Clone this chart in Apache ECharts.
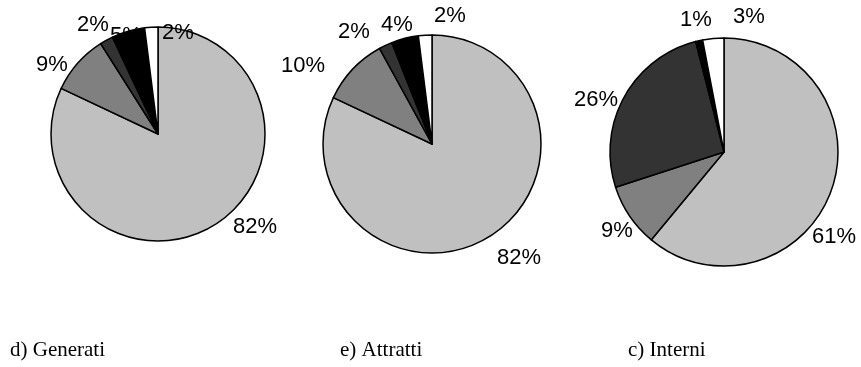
<!DOCTYPE html>
<html>
<head>
<meta charset="utf-8">
<script src="https://cdn.jsdelivr.net/npm/echarts@6/dist/echarts.min.js"></script>
<style>
  html, body { margin: 0; padding: 0; background: #ffffff; }
  #chart { width: 861px; height: 367px; }
</style>
</head>
<body>
<div id="chart"></div>
<script>
// Slice categories (same order in every pie, clockwise from 12 o'clock)
const sliceNames = ['Cat. 1', 'Cat. 2', 'Cat. 3', 'Cat. 4', 'Cat. 5'];
const sliceColors = ['#c0c0c0', '#808080', '#333333', '#000000', '#ffffff'];

// Shares in percent
const generati = [82, 9, 2, 5, 2];
const attratti = [82, 10, 2, 4, 2];
const interni = [61, 9, 26, 1, 3];

// Captions under each pie
const captions = ['d) Generati', 'e) Attratti', 'c) Interni'];

// Label anchors, as offsets from each pie's centre (label text is centred there)
const labelOffsets = [
  [[97, 93], [-106, -69], [-65, -109], [-32, -98], [20, -101]],
  [[87, 114], [-129, -78], [-78, -112], [-35, -119], [18, -128]],
  [[110, 85], [-107, 79], [-128, -52], [-28, -132], [25, -135]]
];

const pies = [
  { values: generati, center: [158, 134], radius: 107, captionLeft: 10 },
  { values: attratti, center: [432, 144], radius: 109, captionLeft: 340 },
  { values: interni, center: [724, 152], radius: 114, captionLeft: 628 }
];

// In the first pie the 5% label sits behind the slices
const labelsBehind = [[3], [], []];

const labelFont = {
  fontFamily: '"Liberation Sans", Arial, sans-serif',
  fontSize: 22,
  color: '#000000'
};

function makeLayout(pieIndex) {
  const p = pies[pieIndex];
  return params => {
    const off = labelOffsets[pieIndex][params.dataIndex];
    return {
      x: p.center[0] + off[0],
      y: p.center[1] + off[1],
      align: 'center',
      verticalAlign: 'middle'
    };
  };
}

function baseSeries(p) {
  return {
    type: 'pie',
    center: p.center,
    radius: [0, p.radius],
    startAngle: 90,
    clockwise: true,
    avoidLabelOverlap: false,
    silent: true,
    emphasis: { disabled: true },
    labelLine: { show: false }
  };
}

const series = [];
pies.forEach((p, pi) => {
  // Label-only layer drawn underneath the slices
  if (labelsBehind[pi].length) {
    series.push(Object.assign(baseSeries(p), {
      z: 1,
      itemStyle: { color: 'rgba(0,0,0,0)', borderWidth: 0 },
      label: Object.assign({ show: true, position: 'outside', formatter: q => q.value + '%' }, labelFont),
      labelLayout: makeLayout(pi),
      data: p.values.map((v, i) => ({
        name: sliceNames[i],
        value: v,
        label: { show: labelsBehind[pi].includes(i) }
      }))
    }));
  }
  // The pie itself
  series.push(Object.assign(baseSeries(p), {
    z: 2,
    itemStyle: { borderColor: '#000000', borderWidth: 1.5 },
    label: Object.assign({ show: true, position: 'outside', formatter: q => q.value + '%' }, labelFont),
    labelLayout: makeLayout(pi),
    data: p.values.map((v, i) => ({
      name: sliceNames[i],
      value: v,
      itemStyle: { color: sliceColors[i] },
      label: { show: !labelsBehind[pi].includes(i) }
    }))
  }));
});

const chart = echarts.init(document.getElementById('chart'), null, { renderer: 'canvas' });

chart.setOption({
  backgroundColor: '#ffffff',
  animation: false,
  title: pies.map((p, i) => ({
    text: captions[i],
    left: p.captionLeft,
    top: 340,
    padding: 0,
    textStyle: {
      fontFamily: '"Liberation Serif", "Times New Roman", serif',
      fontWeight: 'normal',
      fontSize: 21,
      color: '#000000'
    }
  })),
  series: series
});
</script>
</body>
</html>
